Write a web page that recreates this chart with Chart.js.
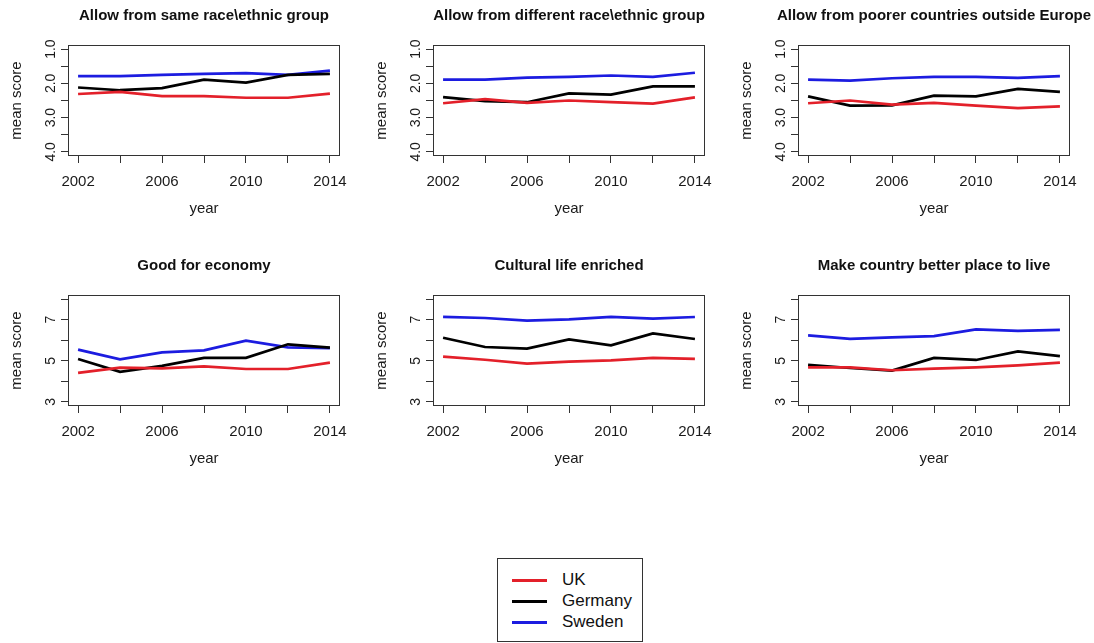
<!DOCTYPE html>
<html lang="en">
<head>
  <meta charset="UTF-8">
  <title>Attitudes to immigration — UK, Germany, Sweden</title>
  <script src="https://cdn.jsdelivr.net/npm/chart.js"></script>
  <style>
    body {
      margin: 0;
      width: 1094px;
      height: 643px;
      overflow: hidden;
      background: #fff;
      font-family: "Liberation Sans", Arial, sans-serif;
      position: relative;
    }
    canvas {
      position: absolute;
    }
    .legend {
      position: absolute;
      left: 497px;
      top: 558px;
      width: 146px;
      height: 84px;
      box-sizing: border-box;
      border: 1px solid #333;
    }
    .legend .item {
      position: absolute;
      left: 14px;
      height: 20px;
      display: flex;
      align-items: center;
      font-size: 17px;
      color: #111;
    }
    .legend .swatch {
      width: 35px;
      height: 0;
      border-top: 3px solid;
      margin-right: 15px;
    }
  </style>
</head>
<body>

<script>
  // categories
  const years = [2002, 2004, 2006, 2008, 2010, 2012, 2014];
  const yearTickLabels = ['2002', '', '2006', '', '2010', '', '2014'];
  const countries = ['UK', 'Germany', 'Sweden'];

  // y ticks: "allow" questions (1 = allow many, 4 = allow none), effect questions 0-10
  const allowTicks = [1, 1.5, 2, 2.5, 3, 3.5, 4];
  const allowTickLabels = ['1.0', '', '2.0', '', '3.0', '', '4.0'];
  const effectTicks = [3, 4, 5, 6, 7, 8];
  const effectTickLabels = ['3', '', '5', '', '7', ''];

  // Allow from same race\ethnic group
  const ukSameRace = [2.31, 2.25, 2.37, 2.37, 2.42, 2.42, 2.30];
  const deSameRace = [2.12, 2.20, 2.14, 1.89, 1.98, 1.75, 1.72];
  const seSameRace = [1.79, 1.79, 1.75, 1.72, 1.70, 1.75, 1.63];

  // Allow from different race\ethnic group
  const ukDiffRace = [2.58, 2.46, 2.57, 2.50, 2.55, 2.59, 2.41];
  const deDiffRace = [2.40, 2.52, 2.55, 2.29, 2.33, 2.09, 2.09];
  const seDiffRace = [1.89, 1.89, 1.83, 1.81, 1.77, 1.81, 1.69];

  // Allow from poorer countries outside Europe
  const ukPoorer = [2.58, 2.50, 2.62, 2.57, 2.65, 2.72, 2.67];
  const dePoorer = [2.38, 2.65, 2.64, 2.36, 2.38, 2.16, 2.25];
  const sePoorer = [1.89, 1.92, 1.85, 1.81, 1.81, 1.84, 1.79];

  // Good for economy
  const ukEconomy = [4.41, 4.67, 4.63, 4.73, 4.60, 4.60, 4.91];
  const deEconomy = [5.09, 4.46, 4.75, 5.14, 5.14, 5.80, 5.64];
  const seEconomy = [5.54, 5.07, 5.41, 5.51, 5.98, 5.65, 5.62];

  // Cultural life enriched
  const ukCulture = [5.20, 5.05, 4.86, 4.96, 5.02, 5.14, 5.09];
  const deCulture = [6.12, 5.67, 5.59, 6.04, 5.75, 6.33, 6.06];
  const seCulture = [7.14, 7.08, 6.95, 7.01, 7.14, 7.05, 7.13];

  // Make country better place to live
  const ukBetter = [4.68, 4.68, 4.54, 4.62, 4.68, 4.78, 4.91];
  const deBetter = [4.80, 4.65, 4.52, 5.14, 5.04, 5.46, 5.23];
  const seBetter = [6.24, 6.07, 6.14, 6.20, 6.53, 6.45, 6.50];

  const seriesColors = ['#e3202a', '#000000', '#1c1ce0'];

  const panels = [
    { title: 'Allow from same race\\ethnic group', series: [ukSameRace, deSameRace, seSameRace], kind: 'allow' },
    { title: 'Allow from different race\\ethnic group', series: [ukDiffRace, deDiffRace, seDiffRace], kind: 'allow' },
    { title: 'Allow from poorer countries outside Europe', series: [ukPoorer, dePoorer, sePoorer], kind: 'allow' },
    { title: 'Good for economy', series: [ukEconomy, deEconomy, seEconomy], kind: 'effect' },
    { title: 'Cultural life enriched', series: [ukCulture, deCulture, seCulture], kind: 'effect' },
    { title: 'Make country better place to live', series: [ukBetter, deBetter, seBetter], kind: 'effect' }
  ];

  Chart.defaults.font.family = '"Liberation Sans", Arial, sans-serif';
  Chart.defaults.color = '#1a1a1a';

  // R-style box round the plot region
  const boxPlugin = {
    id: 'box',
    afterDatasetsDraw(chart) {
      const a = chart.chartArea;
      const ctx = chart.ctx;
      ctx.save();
      ctx.strokeStyle = '#333';
      ctx.lineWidth = 1;
      ctx.strokeRect(Math.round(a.left) + 0.5, Math.round(a.top) + 0.5,
        Math.round(a.width) - 1, Math.round(a.height) - 1);
      ctx.restore();
    }
  };

  function makePanel(p, i) {
    const col = i % 3, row = Math.floor(i / 3);
    const canvas = document.createElement('canvas');
    canvas.width = 408;
    canvas.height = 230;
    canvas.style.left = (col * 365) + 'px';
    canvas.style.top = (row * 250) + 'px';
    document.body.appendChild(canvas);

    const allow = p.kind === 'allow';
    const yTicks = allow ? allowTicks : effectTicks;
    const yLabels = allow ? allowTickLabels : effectTickLabels;

    new Chart(canvas, {
      type: 'line',
      data: {
        datasets: p.series.map((vals, k) => ({
          label: countries[k],
          data: years.map((yr, j) => ({ x: yr, y: vals[j] })),
          borderColor: seriesColors[k],
          borderWidth: 2.7,
          pointRadius: 0,
          tension: 0,
          fill: false
        }))
      },
      options: {
        responsive: false,
        animation: false,
        layout: { padding: 0 },
        plugins: {
          legend: { display: false },
          tooltip: { enabled: false },
          title: {
            display: true,
            text: p.title,
            color: '#111',
            font: { size: 15, weight: 'bold' },
            padding: { top: 7, bottom: 20 }
          }
        },
        scales: {
          x: {
            type: 'linear',
            position: 'bottom',
            min: 2001.52,
            max: 2014.48,
            afterBuildTicks: s => { s.ticks = years.map(v => ({ value: v })); },
            afterFit: s => { s.height = 74; },
            ticks: {
              autoSkip: false,
              maxRotation: 0,
              padding: 10,
              font: { size: 15 },
              callback: (v, idx) => yearTickLabels[idx]
            },
            grid: { drawOnChartArea: false, drawTicks: true, tickLength: 7, color: '#333' },
            border: { display: false },
            title: { display: true, text: 'year', font: { size: 15 }, padding: { top: 0, bottom: 12 } }
          },
          y: {
            type: 'linear',
            position: 'left',
            reverse: allow,
            min: allow ? 0.88 : 2.8,
            max: allow ? 4.12 : 8.2,
            afterBuildTicks: s => { s.ticks = yTicks.map(v => ({ value: v })); },
            afterFit: s => { s.width = 68; },
            ticks: {
              autoSkip: false,
              minRotation: 90,
              maxRotation: 90,
              crossAlign: 'center',
              padding: allow ? 0 : 6,
              font: { size: 14 },
              callback: (v, idx) => yLabels[idx]
            },
            grid: { drawOnChartArea: false, drawTicks: true, tickLength: 7, color: '#333' },
            border: { display: false },
            title: { display: true, text: 'mean score', font: { size: 15 }, padding: { top: 8, bottom: 0 } }
          },
          // empty right margin so the title centres over the plot box
          pad: {
            type: 'linear',
            position: 'right',
            display: true,
            ticks: { display: false },
            grid: { display: false },
            border: { display: false },
            afterFit: s => { s.width = 68; }
          }
        }
      },
      plugins: [boxPlugin]
    });
  }

  panels.forEach(makePanel);

  // legend
  const legend = document.createElement('div');
  legend.className = 'legend';
  countries.forEach((name, k) => {
    const item = document.createElement('div');
    item.className = 'item';
    item.style.top = (11 + k * 21) + 'px';
    const sw = document.createElement('span');
    sw.className = 'swatch';
    sw.style.borderColor = seriesColors[k];
    item.appendChild(sw);
    item.appendChild(document.createTextNode(name));
    legend.appendChild(item);
  });
  document.body.appendChild(legend);
</script>

</body>
</html>
